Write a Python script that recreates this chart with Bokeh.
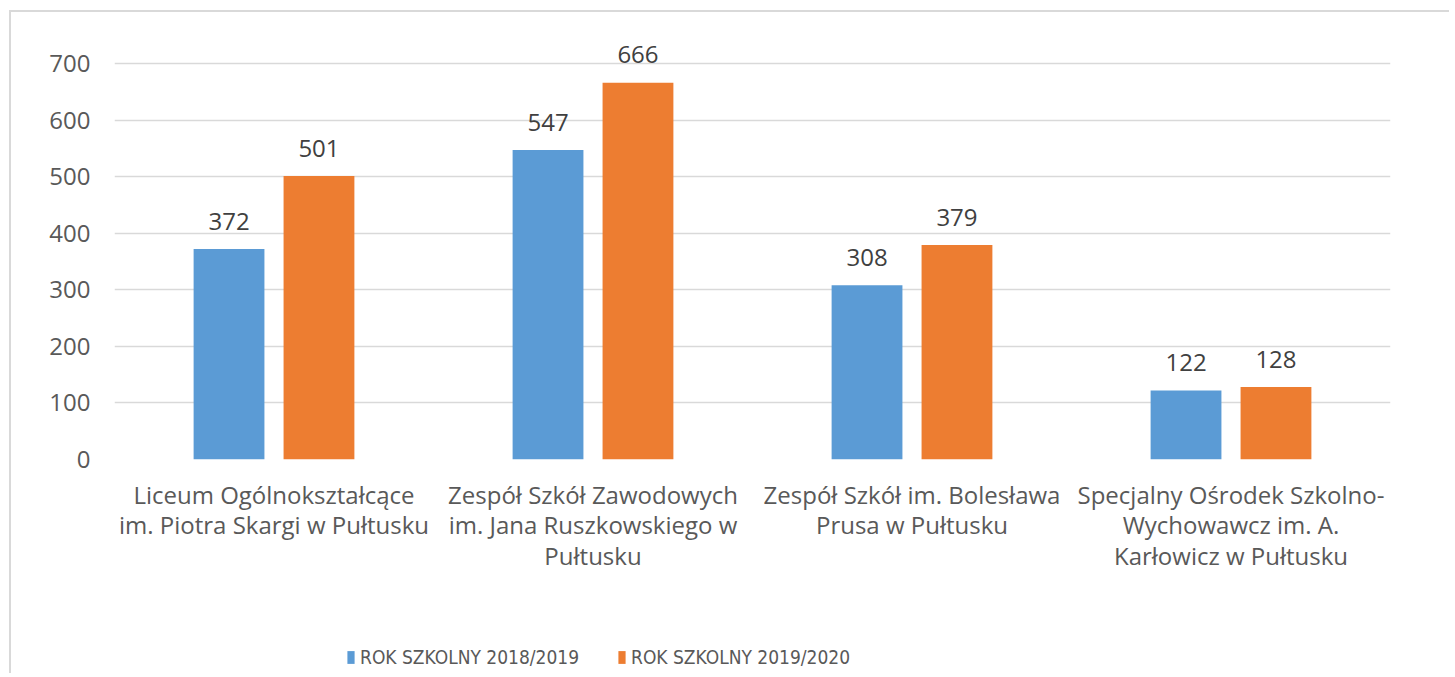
from bokeh.plotting import figure
from bokeh.models import (FactorRange, Range1d, Legend, LegendItem, ColumnDataSource,
                          FixedTicker, Spacer)
from bokeh.layouts import column, row
from bokeh.transform import dodge
from bokeh.core.properties import value
from bokeh.embed import file_html
from bokeh.resources import INLINE

categories = [
    "Liceum Ogólnokształcące\nim. Piotra Skargi w Pułtusku",
    "Zespół Szkół Zawodowych\nim. Jana Ruszkowskiego w\nPułtusku",
    "Zespół Szkół im. Bolesława\nPrusa w Pułtusku",
    "Specjalny Ośrodek Szkolno-\nWychowawcz im. A.\nKarłowicz w Pułtusku",
]
series_names = ["ROK SZKOLNY 2018/2019", "ROK SZKOLNY 2019/2020"]
values_2018 = [372, 547, 308, 122]
values_2019 = [501, 666, 379, 128]
y_ticks = [0, 100, 200, 300, 400, 500, 600, 700]

BLUE = "#5B9BD5"
ORANGE = "#ED7D31"
FONT = "Open Sans"
BORDER = "2px solid #d9d9d9"

src = ColumnDataSource(dict(
    cat=categories,
    v1=values_2018,
    v2=values_2019,
    t1=[str(v) for v in values_2018],
    t2=[str(v) for v in values_2019],
))

p = figure(
    x_range=FactorRange(*categories),
    y_range=Range1d(0, 776),
    width=1440, height=578,
    output_backend="svg", toolbar_location=None,
    min_border_left=103, min_border_right=61,
    min_border_top=8, min_border_bottom=131,
)
p.styles = {"border-top": BORDER, "border-left": BORDER}
p.outline_line_color = None
p.background_fill_color = "white"
p.border_fill_color = "white"

off = 0.141
bw = 0.222
r1 = p.vbar(x=dodge("cat", -off, range=p.x_range), top="v1", width=bw, source=src,
            fill_color=BLUE, line_color=None)
r2 = p.vbar(x=dodge("cat", off, range=p.x_range), top="v2", width=bw, source=src,
            fill_color=ORANGE, line_color=None)

p.text(x=dodge("cat", -off, range=p.x_range), y="v1", text="t1", source=src,
       text_align="center", text_baseline="alphabetic", y_offset=-28,
       text_font=value(FONT), text_font_size="24px", text_color="#404040")
p.text(x=dodge("cat", off, range=p.x_range), y="v2", text="t2", source=src,
       text_align="center", text_baseline="alphabetic", y_offset=-28,
       text_font=value(FONT), text_font_size="24px", text_color="#404040")

# grid
p.xgrid.grid_line_color = None
p.ygrid.grid_line_color = "#d9d9d9"
p.ygrid.grid_line_width = 1.6
p.yaxis.ticker = FixedTicker(ticks=y_ticks)

# axes
for ax in (p.xaxis[0], p.yaxis[0]):
    ax.axis_line_color = None
    ax.major_tick_line_color = None
    ax.minor_tick_line_color = None
    ax.major_tick_out = 0
    ax.major_tick_in = 0
    ax.major_label_text_font = FONT
    ax.major_label_text_font_size = "24px"
    ax.major_label_text_color = "#595959"
p.yaxis.major_label_standoff = 24
p.xaxis.major_label_standoff = 18
p.xaxis.major_label_text_line_height = 0.93
p.xaxis.group_text_font_size = "0px"

# legend strip (separate small figure below the chart)
lg = figure(
    x_range=Range1d(0, 1), y_range=Range1d(0, 1),
    width=1440, height=85,
    output_backend="svg", toolbar_location=None,
    x_axis_type=None, y_axis_type=None,
    min_border_left=0, min_border_right=0, min_border_top=0, min_border_bottom=0,
)
lg.styles = {"border-left": BORDER}
lg.outline_line_color = None
lg.xgrid.visible = False
lg.ygrid.visible = False
# proxy bars with no drawable extent, used only as legend swatches
proxy = ColumnDataSource(dict(x=[float("nan")], top=[float("nan")]))
d1 = lg.vbar(x="x", top="top", width=0.1, source=proxy, fill_color=BLUE, line_color=None)
d2 = lg.vbar(x="x", top="top", width=0.1, source=proxy, fill_color=ORANGE, line_color=None)

legend = Legend(
    items=[LegendItem(label=series_names[0], renderers=[d1]),
           LegendItem(label=series_names[1], renderers=[d2])],
    orientation="horizontal",
    location=(232, 5),
    glyph_width=9, glyph_height=16,
    label_width=257, label_height=16, label_standoff=5,
    spacing=0, padding=2, margin=0,
    border_line_color=None, background_fill_alpha=0,
    label_text_font="'DejaVu Sans Condensed', 'Open Sans', sans-serif",
    label_text_font_size="19px",
    label_text_color="#595959",
)
lg.add_layout(legend, "center")

layout = column(
    Spacer(height=10),
    row(Spacer(width=9), column(p, lg, spacing=0), spacing=0),
    spacing=0,
)

open("out.html", "w").write(file_html(layout, INLINE))
